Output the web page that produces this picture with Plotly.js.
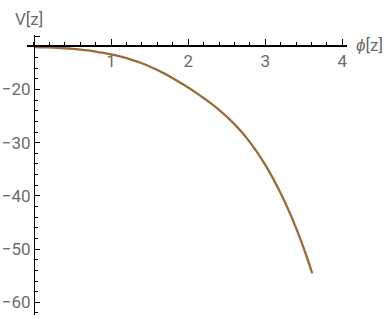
<!DOCTYPE html>
<html>
<head>
<meta charset="utf-8">
<script src="https://cdn.plot.ly/plotly-3.0.1.min.js"></script>
<style>html,body{margin:0;padding:0;background:#fff;}#chart{width:388px;height:319px;}</style>
</head>
<body>
<div id="chart"></div>
<script>
const phi = [0, 0.1, 0.2, 0.3, 0.4, 0.5, 0.6, 0.7, 0.8, 0.9, 1.0, 1.1, 1.2, 1.3, 1.4, 1.5, 1.6, 1.7, 1.8, 1.9,
             2.0, 2.1, 2.2, 2.3, 2.4, 2.5, 2.6, 2.7, 2.8, 2.9, 3.0, 3.1, 3.2, 3.3, 3.4, 3.5, 3.6, 3.61];
const V = [-12.05, -12.06, -12.10, -12.16, -12.25, -12.36, -12.50, -12.67, -12.88, -13.12,
           -13.40, -13.73, -14.11, -14.56, -15.08, -15.67, -16.33, -17.07, -17.87, -18.74,
           -19.64, -20.59, -21.60, -22.67, -23.82, -25.10, -26.52, -28.11, -29.90, -31.92,
           -34.17, -36.71, -39.51, -42.61, -46.07, -49.89, -54.12, -54.56];
const xTickVals = [1, 2, 3, 4];
const xTickText = ['1', '2', '3', '4'];
const yTickVals = [-60, -50, -40, -30, -20, -10];
const yTickText = ['\u221260', '\u221250', '\u221240', '\u221230', '\u221220', ''];
const xAxisCrossing = -11.7;

const xRange = [-0.09, 4.06];
const yRange = [-62.39, -9.76];
const grey = '#6b6b6b';
const fontFam = 'Roboto, "Open Sans", sans-serif';

const trace = {
  x: phi, y: V, type: 'scatter', mode: 'lines',
  line: {color: '#9d6a3a', width: 2.3, shape: 'spline', smoothing: 1},
  hoverinfo: 'skip', showlegend: false
};

const layout = {
  width: 388, height: 319,
  margin: {l: 26.7, r: 41.3, t: 35, b: 4, pad: 0},
  paper_bgcolor: '#fff', plot_bgcolor: '#fff',
  showlegend: false,
  xaxis: {
    range: xRange, anchor: 'free',
    position: (xAxisCrossing - yRange[0]) / (yRange[1] - yRange[0]),
    showgrid: false, zeroline: false, showline: true, linecolor: '#000', linewidth: 1.2,
    tickmode: 'array', tickvals: xTickVals, ticktext: xTickText,
    ticks: 'inside', ticklen: 6, tickwidth: 1, tickcolor: '#000',
    minor: {dtick: 0.2, tick0: 0, ticks: 'inside', ticklen: 3.5, tickcolor: '#000', tickwidth: 1, showgrid: false},
    tickfont: {family: fontFam, size: 17, color: grey}
  },
  yaxis: {
    range: yRange, anchor: 'free',
    position: (0 - xRange[0]) / (xRange[1] - xRange[0]),
    showgrid: false, zeroline: false, showline: true, linecolor: '#000', linewidth: 1.2,
    tickmode: 'array', tickvals: yTickVals, ticktext: yTickText,
    ticks: 'inside', ticklen: 4.5, tickwidth: 1, tickcolor: '#000',
    minor: {dtick: 2, tick0: 0, ticks: 'inside', ticklen: 2.5, tickcolor: '#000', tickwidth: 1, showgrid: false},
    tickfont: {family: fontFam, size: 17, color: grey}
  },
  annotations: [
    {text: 'V[z]', xref: 'paper', yref: 'paper', x: -0.045, y: 1.0, xanchor: 'left', yanchor: 'bottom',
     yshift: 4, showarrow: false, font: {family: fontFam, size: 17, color: grey}},
    {text: '<i>\u03d5</i>[z]', xref: 'paper', yref: 'y', x: 1.0, y: xAxisCrossing, xanchor: 'left', yanchor: 'middle',
     xshift: 7, showarrow: false, font: {family: fontFam, size: 17, color: grey}}
  ]
};

Plotly.newPlot('chart', [trace], layout, {staticPlot: true, displayModeBar: false});
</script>
</body>
</html>
